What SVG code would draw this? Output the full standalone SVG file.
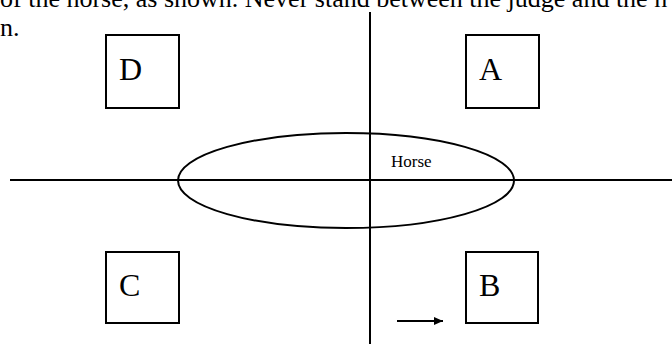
<svg xmlns="http://www.w3.org/2000/svg" width="672" height="344" viewBox="0 0 672 344">
<defs>
<style>
.t{font-family:"Liberation Serif","Times New Roman",serif;fill:#000}
.box{fill:#fff;stroke:#000;stroke-width:2}
.ln{stroke:#000;stroke-width:2;fill:none}
.lbl{font-size:32px}
</style>
<marker id="ah" markerWidth="10" markerHeight="8" refX="9" refY="4" orient="auto" markerUnits="userSpaceOnUse">
<path d="M0,0 L9,4 L0,8 Z" fill="#000"/>
</marker>
</defs>
<rect width="672" height="344" fill="#fff"/>
<text class="t" x="0" y="7" font-size="26">of the horse, as shown. Never stand between the judge and the h</text>
<text class="t" x="0" y="36" font-size="26">n.</text>
<g id="connectors">
<line class="ln" x1="370" y1="12" x2="370" y2="344"/>
<line class="ln" x1="10" y1="180" x2="672" y2="180"/>
<line class="ln" x1="397" y1="321" x2="443" y2="321" marker-end="url(#ah)"/>
</g>
<g id="horse">
<ellipse class="ln" cx="346" cy="180.5" rx="168" ry="47.5"/>
<text class="t" x="391" y="167" font-size="17">Horse</text>
</g>
<g id="D">
<rect class="box" x="106" y="35" width="73" height="73"/>
<text class="t lbl" x="119" y="80">D</text>
</g>
<g id="A">
<rect class="box" x="466" y="35" width="73" height="73"/>
<text class="t lbl" x="479" y="80">A</text>
</g>
<g id="C">
<rect class="box" x="106" y="252" width="73" height="71"/>
<text class="t lbl" x="119" y="296">C</text>
</g>
<g id="B">
<rect class="box" x="466" y="252" width="72" height="71"/>
<text class="t lbl" x="479" y="296">B</text>
</g>
</svg>
